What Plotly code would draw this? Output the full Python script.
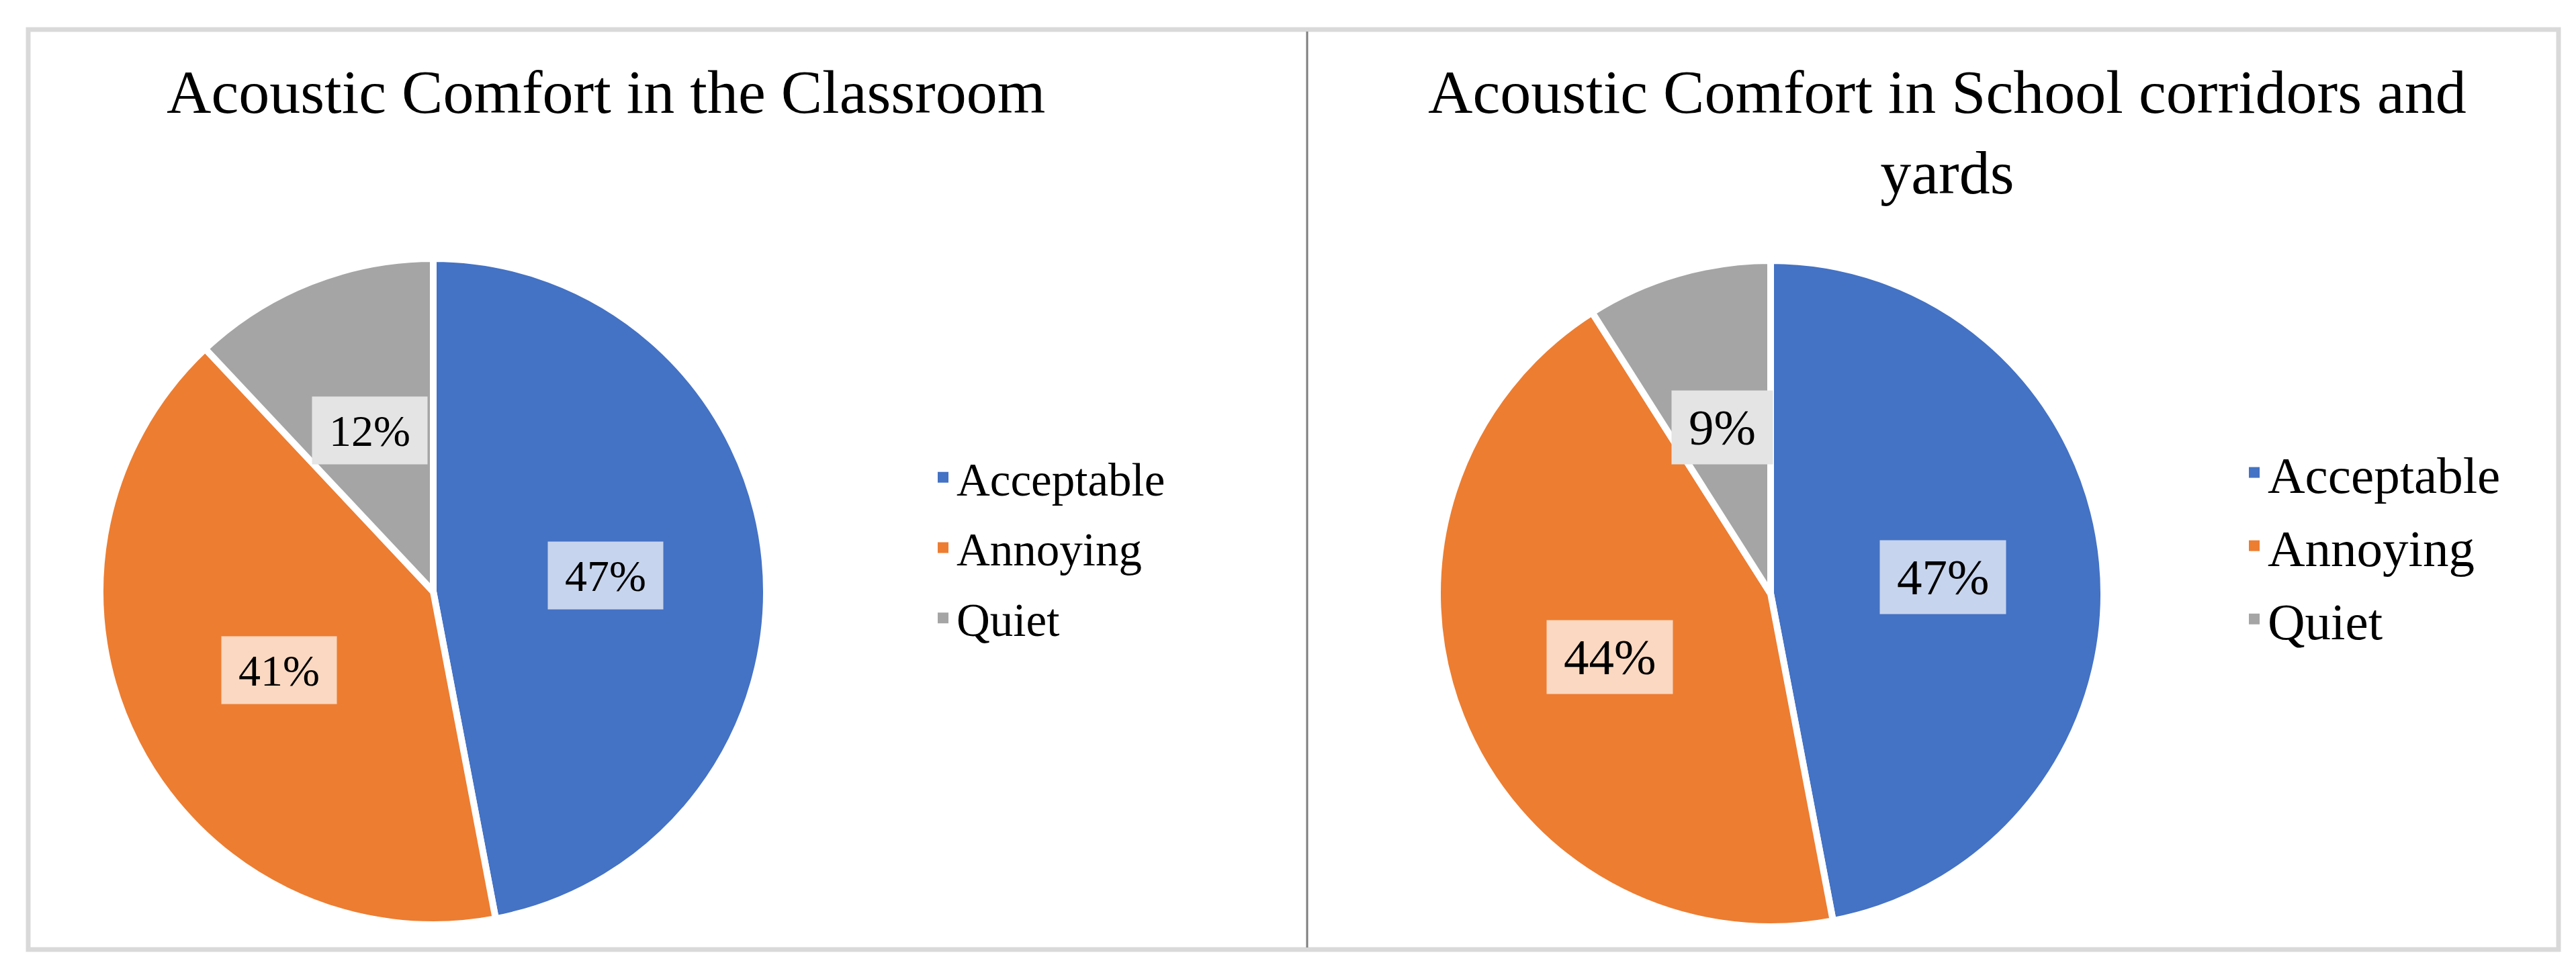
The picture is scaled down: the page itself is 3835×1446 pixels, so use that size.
import math
import plotly.graph_objects as go

# data
labels = ["Acceptable", "Annoying", "Quiet"]
classroom = [47, 41, 12]
corridors = [47, 44, 9]
titles = ["Acoustic Comfort in the Classroom",
          "Acoustic Comfort in School corridors and<br>yards"]

colors = ["#4472C4", "#ED7D31", "#A5A5A5"]
label_bg = ["#C7D4ED", "#FAD8C1", "#E4E4E4"]

W, H = 3835, 1446
FONT = "Times New Roman, Liberation Serif, serif"

# pie geometry in pixels: centre x, centre y, radius
pies = [
    dict(vals=classroom, cx=637, cy=873, r=496, fs=66, legend="legend", grp="a"),
    dict(vals=corridors, cx=2628, cy=876, r=496, fs=75, legend="legend2", grp="b"),
]


def px(x):
    return x / W


def py(y):
    return 1 - y / H


fig = go.Figure()
annotations = []

for p in pies:
    fig.add_trace(go.Pie(
        labels=labels, values=p["vals"],
        sort=False, direction="clockwise", rotation=0,
        marker=dict(colors=colors, line=dict(color="white", width=10)),
        textinfo="none", hoverinfo="label+percent",
        domain=dict(x=[px(p["cx"] - p["r"]), px(p["cx"] + p["r"])],
                    y=[py(p["cy"] + p["r"]), py(p["cy"] - p["r"])]),
        showlegend=False,
    ))

    # legend entries with bigger square keys than the pie legend gives
    for lab, c in zip(labels, colors):
        fig.add_trace(go.Scatter(
            x=[None], y=[None], mode="markers", name=lab,
            marker=dict(symbol="square", size=22, color=c),
            legend=p["legend"], legendgroup=p["grp"] + lab,
            hoverinfo="skip",
        ))

    # data labels on each slice's mid angle, about half way out
    total = sum(p["vals"])
    start = 0.0
    for v, bg in zip(p["vals"], label_bg):
        mid = (start + v / 2) / total * 2 * math.pi
        start += v
        lx = p["cx"] + 0.52 * p["r"] * math.sin(mid)
        ly = p["cy"] - 0.52 * p["r"] * math.cos(mid)
        txt = f"{round(v / total * 100)}%"
        fs = p["fs"]
        annotations.append(dict(
            x=px(lx), y=py(ly), xref="paper", yref="paper",
            xanchor="center", yanchor="middle",
            text=txt, showarrow=False,
            font=dict(family=FONT, size=fs, color="black"),
            bgcolor=bg, borderpad=10,
            width=fs * (0.5 * (len(txt) - 1) + 0.833) + 30,
            height=fs + 14,
        ))

annotations.append(dict(
    x=px(894), y=py(129), xref="paper", yref="paper", text=titles[0],
    xanchor="center", yanchor="middle",
    showarrow=False, font=dict(family=FONT, size=92, color="black"),
))
annotations.append(dict(
    x=px(2891), y=py(189), xref="paper", yref="paper", text=titles[1],
    xanchor="center", yanchor="middle",
    showarrow=False, font=dict(family=FONT, size=92, color="black"),
))

shapes = [
    dict(type="rect", xref="paper", yref="paper",
         x0=px(34), x1=px(3801), y0=py(1406), y1=py(36),
         line=dict(color="#D9D9D9", width=7)),
    dict(type="line", xref="paper", yref="paper",
         x0=px(1938), x1=px(1938), y0=py(1403), y1=py(39),
         line=dict(color="#7F7F7F", width=3)),
]

fig.update_layout(
    width=W, height=H,
    margin=dict(l=0, r=0, t=0, b=0),
    paper_bgcolor="white", plot_bgcolor="white",
    xaxis=dict(visible=False), yaxis=dict(visible=False),
    annotations=annotations,
    shapes=shapes,
    legend=dict(x=px(1376), y=py(808), xanchor="left", yanchor="middle",
                font=dict(family=FONT, size=69, color="black"),
                traceorder="grouped", tracegroupgap=12,
                bgcolor="rgba(0,0,0,0)"),
    legend2=dict(x=px(3328), y=py(805), xanchor="left", yanchor="middle",
                 font=dict(family=FONT, size=77, color="black"),
                 traceorder="grouped", tracegroupgap=6,
                 bgcolor="rgba(0,0,0,0)"),
)

fig.write_html("out.html")
